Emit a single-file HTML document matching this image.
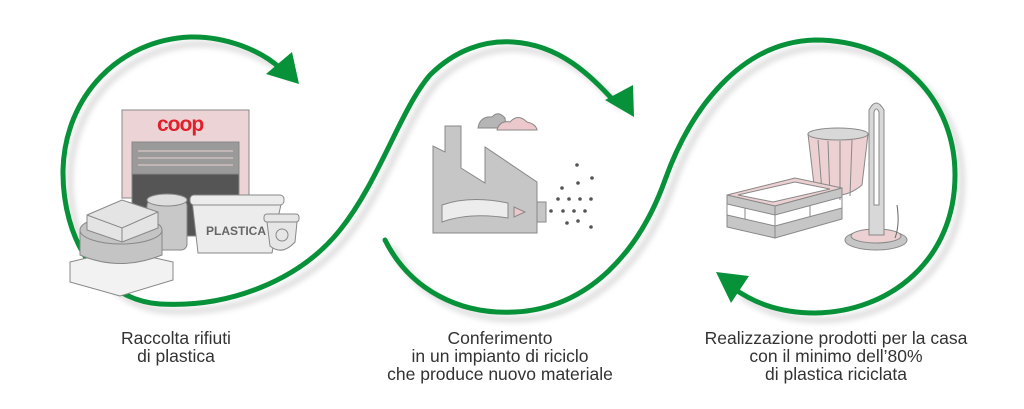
<!DOCTYPE html>
<html><head><meta charset="utf-8"><style>
html,body{margin:0;padding:0;background:#fff;}
svg{display:block}
text{font-family:"Liberation Sans",sans-serif;font-size:17.5px;fill:#333;}
</style></head><body>
<svg width="1024" height="409" viewBox="0 0 1024 409" xmlns="http://www.w3.org/2000/svg">
<defs><filter id="b" x="-10%" y="-10%" width="120%" height="120%"><feGaussianBlur stdDeviation="3"/></filter></defs>
<g fill="none" stroke="#ddd" stroke-width="6" filter="url(#b)" transform="translate(7,7)">
<path d="M 285 72 C 260 50, 225 36, 190 37 C 120 40, 65 95, 63 170 C 62 240, 100 300, 160 304 C 230 308, 300 280, 340 230 C 380 180, 400 110, 430 75 C 455 50, 485 40, 513 42 C 560 45, 590 75, 615 102"/>
<path d="M 385 240 C 410 290, 460 315, 515 312 C 590 308, 640 250, 665 180 C 690 110, 740 42, 815 40 C 900 40, 955 100, 955 175 C 955 260, 890 312, 815 313 C 775 313, 750 300, 733 288"/>
</g>
<g fill="none" stroke="#07923a" stroke-width="5" stroke-linecap="round">
<path d="M 280 68 C 260 50, 225 36, 190 37 C 120 40, 65 95, 63 170 C 62 240, 100 300, 160 304 C 230 308, 300 280, 340 230 C 380 180, 400 110, 430 75 C 455 50, 485 40, 513 42 C 560 45, 590 75, 615 102"/>
<path d="M 385 240 C 410 290, 460 315, 515 312 C 590 308, 640 250, 665 180 C 690 110, 740 42, 815 40 C 900 40, 955 100, 955 175 C 955 260, 890 312, 815 313 C 775 313, 750 300, 733 288"/>
</g>
<g fill="#07923a">
<polygon points="266,74 292,52 299,84"/>
<polygon points="605,100 633,85 634,117"/>
<polygon points="716,272 749,276 731,303"/>
</g>

<g stroke="#888" stroke-width="1">
<rect x="122" y="110" width="127" height="88" fill="#ecd3d5"/>
<rect x="132" y="142" width="107" height="32" fill="#9a9a9a"/>
<rect x="132" y="174" width="107" height="62" fill="#555"/>
<line x1="138" y1="151" x2="233" y2="151" stroke="#e8d0d2"/>
<line x1="138" y1="158" x2="233" y2="158" stroke="#e8d0d2"/>
<line x1="138" y1="165" x2="233" y2="165" stroke="#e8d0d2"/>
<rect x="147" y="200" width="40" height="50" rx="6" fill="#c8c8c8"/>
<ellipse cx="167" cy="200" rx="20" ry="6" fill="#dedede"/>
<path d="M192 200 L282 200 L278 218 L272 253 L198 253 Z" fill="#ececec"/>
<rect x="190" y="195" width="94" height="10" rx="4" fill="#ececec"/>
<path d="M267 222 L297 222 L295 242 Q282 256 270 246 Z" fill="#e6e6e6"/>
<rect x="264" y="214" width="35" height="8" rx="3" fill="#e6e6e6"/>
<circle cx="282" cy="235" r="6" fill="none"/>
<path d="M70 262 L120 250 L173 262 L173 280 L120 296 L70 282 Z" fill="#f2f2f2"/>
<path d="M80 230 L80 255 Q120 272 162 255 L162 230 Z" fill="#c4c4c4"/>
<ellipse cx="121" cy="230" rx="41" ry="14" fill="#c4c4c4"/>
<path d="M87 215 L122 200 L158 212 L158 228 L122 242 L87 230 Z" fill="#e4e4e4"/>
<path d="M87 215 L122 228 L158 212 M122 228 L122 242" fill="none"/>
</g>
<text x="157" y="131" style="font-size:21px;font-weight:bold;fill:#e0202a;letter-spacing:-1px">coop</text>
<text x="206" y="235" style="font-size:12px;font-weight:bold;fill:#666">PLASTICA</text>

<g stroke="#888" stroke-width="1">
<polygon points="433,233 433,146 445,152 445,126 461,126 461,168 485,183 485,147 537,182 537,233" fill="#c6c6c6"/>
<rect x="537" y="202" width="9" height="20" fill="#c6c6c6"/>
<path d="M442 205 Q470 195 508 203 L508 218 Q470 212 442 222 Z" fill="#ececec"/>
<polygon points="514,207 525,212 514,217" fill="#ecc8cc"/>
<path d="M478 128 Q480 116 492 117 Q498 110 505 118 L506 128 Z" fill="#b5b5b5"/>
<path d="M497 130 Q500 120 510 122 Q518 113 527 122 Q536 124 537 130 Z" fill="#ecc8cc"/>
</g>
<g fill="#555">
<circle cx="577" cy="165" r="1.8"/><circle cx="592" cy="178" r="1.8"/><circle cx="578" cy="183" r="1.8"/><circle cx="562" cy="188" r="1.8"/>
<circle cx="558" cy="199" r="1.8"/><circle cx="569" cy="199" r="1.8"/><circle cx="580" cy="199" r="1.8"/><circle cx="591" cy="199" r="1.8"/>
<circle cx="551" cy="211" r="1.8"/><circle cx="563" cy="211" r="1.8"/><circle cx="574" cy="211" r="1.8"/><circle cx="585" cy="211" r="1.8"/>
<circle cx="567" cy="223" r="1.8"/><circle cx="578" cy="221" r="1.8"/><circle cx="591" cy="227" r="1.8"/>
</g>

<g stroke="#888" stroke-width="1">
<path d="M808 134 L868 134 L862 185 Q838 205 814 185 Z" fill="#ecd0d2"/>
<ellipse cx="838" cy="134" rx="30" ry="6" fill="#d8d8d8"/>
<path d="M818 140 L822 192 M828 141 L830 198 M840 141 L840 200 M852 140 L850 196" fill="none"/>
<polygon points="727,195 795,178 842,188 775,206" fill="#ecd0d2"/>
<polygon points="738,195 795,182 830,189 773,202" fill="#fff"/>
<path d="M727 195 L775 206 L775 215 L727 204 Z M775 206 L842 188 L842 197 L775 215 Z" fill="#c6c6c6"/>
<path d="M727 215 L775 226 L775 238 L727 227 Z M775 226 L842 208 L842 219 L775 238 Z" fill="#c6c6c6"/>
<path d="M727 204 L727 215 M775 215 L775 226 M842 197 L842 208 M745 208 L745 219 M810 206 L810 217" fill="none"/>
<ellipse cx="876" cy="240" rx="31" ry="10" fill="#c6c6c6"/>
<ellipse cx="876" cy="236" rx="25" ry="7" fill="#ecd0d2"/>
<path d="M869 235 L869 110 Q876 96 884 110 L884 235 Z" fill="#d8d8d8"/>
<path d="M874 205 L874 112 Q876 106 879 112 L879 205 Z" fill="#fff"/>
<path d="M897 205 Q900 225 895 238" fill="none" stroke="#666"/>
</g>

<g text-anchor="middle">
<text x="176" y="344">Raccolta rifiuti</text>
<text x="176" y="362">di plastica</text>
<text x="500" y="344">Conferimento</text>
<text x="500" y="362">in un impianto di riciclo</text>
<text x="500" y="380">che produce nuovo materiale</text>
<text x="836" y="344">Realizzazione prodotti per la casa</text>
<text x="836" y="362">con il minimo dell’80%</text>
<text x="836" y="380">di plastica riciclata</text>
</g>
</svg>
</body></html>
